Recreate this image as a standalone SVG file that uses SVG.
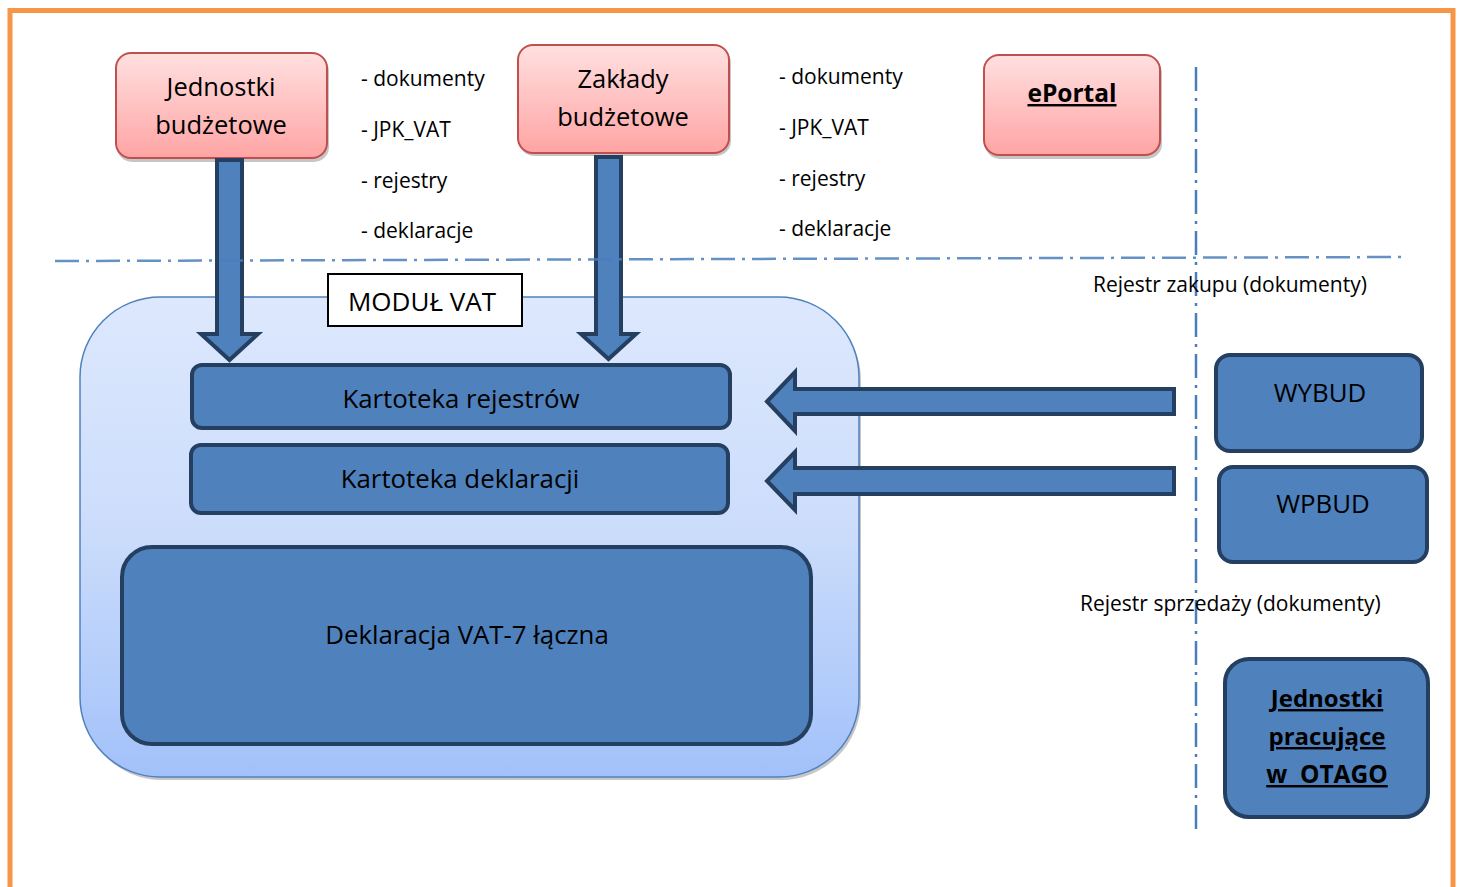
<svg xmlns="http://www.w3.org/2000/svg" width="1461" height="887" viewBox="0 0 1461 887">
<defs>
<linearGradient id="gRed" x1="0" y1="0" x2="0" y2="1">
<stop offset="0" stop-color="#ffe0e0"/>
<stop offset="1" stop-color="#ffa4a4"/>
</linearGradient>
<linearGradient id="gBlue" x1="0" y1="0" x2="0" y2="1">
<stop offset="0" stop-color="#dde8fd"/>
<stop offset="0.5" stop-color="#cbdcfb"/>
<stop offset="1" stop-color="#a2c1fa"/>
</linearGradient>
<style>
.t{font-family:"Open Sans","Noto Sans","Liberation Sans",sans-serif;fill:#000}
.red{fill:url(#gRed);stroke:#c0504d;stroke-width:2}
.shadow{fill:#a0a0a0;opacity:0.6}
.blue{fill:#4f81bd;stroke:#243f60;stroke-width:4}
.arr{fill:#4f81bd;stroke:#243f60;stroke-width:4;stroke-linejoin:miter}
.dash{fill:none;stroke:#4a7ebb;stroke-width:2.5;stroke-dasharray:24 7 3 7}
.lst{font-size:21px}
.in{font-size:25.8px}
.b{font-weight:bold;text-decoration:underline}
</style>
</defs>
<rect x="0" y="0" width="1461" height="887" fill="#fff"/>
<rect id="frame" x="10" y="10.5" width="1443" height="900" fill="none" stroke="#f79646" stroke-width="5"/>

<g id="separator-v">
<line class="dash" x1="1196" y1="67" x2="1196" y2="836"/>
</g>

<g id="modul-vat">
<rect class="shadow" x="82" y="300" width="779" height="480" rx="80"/>
<rect x="80" y="297" width="779" height="480" rx="80" fill="url(#gBlue)" stroke="#4f81bd" stroke-width="1.5"/>
</g>
<g id="modul-vat-label">
<rect x="328" y="274" width="194" height="52" fill="#fff" stroke="#000" stroke-width="2"/>
<text class="t" x="422" y="311" font-size="26" text-anchor="middle">MODUŁ VAT</text>
</g>

<g id="jednostki-budzetowe">
<rect class="shadow" x="117" y="56" width="212" height="106" rx="15"/>
<rect class="red" x="116" y="53" width="211" height="105" rx="15"/>
<text class="t" x="221" y="96" font-size="25.5" text-anchor="middle">Jednostki</text>
<text class="t" x="221" y="134" font-size="25.5" text-anchor="middle">budżetowe</text>
</g>
<g id="lista-1" class="t lst">
<text x="361" y="86">- dokumenty</text>
<text x="361" y="137">- JPK_VAT</text>
<text x="361" y="188">- rejestry</text>
<text x="361" y="238">- deklaracje</text>
</g>

<g id="zaklady-budzetowe">
<rect class="shadow" x="519" y="48" width="212" height="108" rx="15"/>
<rect class="red" x="518" y="45" width="211" height="108" rx="15"/>
<text class="t" x="623" y="88" font-size="25.5" text-anchor="middle">Zakłady</text>
<text class="t" x="623" y="126" font-size="25.5" text-anchor="middle">budżetowe</text>
</g>
<g id="lista-2" class="t lst">
<text x="779" y="84">- dokumenty</text>
<text x="779" y="135">- JPK_VAT</text>
<text x="779" y="186">- rejestry</text>
<text x="779" y="236">- deklaracje</text>
</g>

<g id="eportal">
<rect class="shadow" x="985" y="58" width="177" height="101" rx="15"/>
<rect class="red" x="984" y="55" width="176" height="100" rx="15"/>
<text class="t b" x="1072" y="102" font-size="24.5" text-anchor="middle">ePortal</text>
</g>

<g id="kartoteka-rejestrow">
<rect class="blue" x="192" y="365" width="538" height="63" rx="10"/>
<text class="t in" x="461" y="408" text-anchor="middle">Kartoteka rejestrów</text>
</g>
<g id="kartoteka-deklaracji">
<rect class="blue" x="191" y="445" width="537" height="68" rx="10"/>
<text class="t in" x="460" y="488" text-anchor="middle">Kartoteka deklaracji</text>
</g>
<g id="deklaracja-vat7">
<rect class="blue" x="122" y="547" width="689" height="197" rx="30"/>
<text class="t in" x="467" y="644" text-anchor="middle">Deklaracja VAT-7 łączna</text>
</g>

<g id="wybud">
<rect class="blue" x="1216" y="355" width="206" height="96" rx="14"/>
<text class="t in" x="1320" y="402" text-anchor="middle">WYBUD</text>
</g>
<g id="wpbud">
<rect class="blue" x="1219" y="467" width="208" height="95" rx="14"/>
<text class="t in" x="1323" y="513" text-anchor="middle">WPBUD</text>
</g>
<g id="jednostki-otago">
<rect class="blue" x="1225" y="659" width="203" height="158" rx="24"/>
<text class="t b" x="1327" y="707" font-size="24" text-anchor="middle">Jednostki</text>
<text class="t b" x="1327" y="745" font-size="24" text-anchor="middle">pracujące</text>
<text class="t b" x="1327" y="783" font-size="24.5" text-anchor="middle" xml:space="preserve">w  OTAGO</text>
</g>

<g id="labels" class="t lst">
<text x="1093" y="292">Rejestr zakupu (dokumenty)</text>
<text x="1080" y="611">Rejestr sprzedaży (dokumenty)</text>
</g>

<g id="connectors">
<polygon class="arr" points="217,160 242,160 242,334 258,334 229.5,360 201,334 217,334"/>
<polygon class="arr" points="596,157 621,157 621,334 636,334 608.5,359 581,334 596,334"/>
<polygon class="arr" points="1174,389 1174,414 795,414 795,431 767,401.5 795,372 795,389"/>
<polygon class="arr" points="1174,468 1174,494 795,494 795,510 767,481 795,452 795,468"/>
</g>

<g id="separator-h" opacity="0.85">
<line class="dash" x1="55" y1="261" x2="1408" y2="257"/>
</g>
</svg>
